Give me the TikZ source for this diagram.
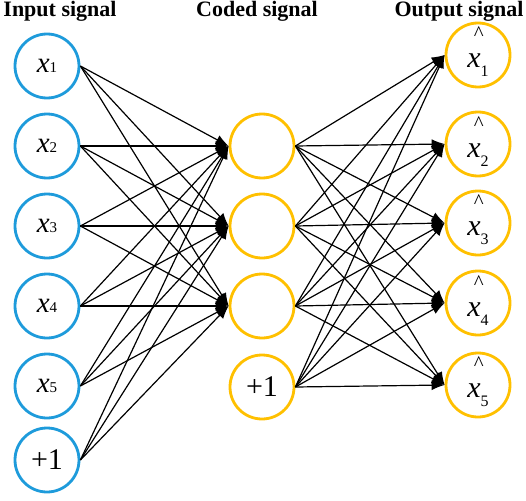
\documentclass[tikz,border=0pt]{standalone}
\usepackage{fontspec}
\setmainfont{Liberation Serif}
\usetikzlibrary{arrows.meta}
\definecolor{inblue}{HTML}{1E9BDB}
\definecolor{gold}{HTML}{FFC000}
\newcommand{\inx}[1]{\fontsize{29}{29}\selectfont\textit{x}\fontsize{15}{15}\selectfont#1}
\newcommand{\outx}[1]{\raisebox{27pt}[35pt][0pt]{\makebox[0pt][l]{\hspace{6.5pt}\fontsize{21}{21}\selectfont\textasciicircum}}\fontsize{30}{30}\selectfont\textit{x}\raisebox{-9pt}{\fontsize{16}{16}\selectfont#1}}
\newcommand{\plusone}{\fontsize{30}{30}\selectfont+1}
\begin{document}
\begin{tikzpicture}[x=1pt,y=-1pt,
 neuron/.style={circle,line width=2.8pt,minimum size=64pt,inner sep=0pt,fill=white},
 inn/.style={neuron,draw=inblue},
 hid/.style={neuron,draw=gold},
 conn/.style={line width=1.2pt,-{Latex[length=13pt,width=10pt]}},
 title/.style={font=\fontsize{22}{22}\selectfont\bfseries,anchor=base,inner sep=0pt}]
\useasboundingbox (0,0) rectangle (526,500);
\node[title] (t1) at (60,17) {Input signal};
\node[title] (t2) at (257,17) {Coded signal};
\node[title] (t3) at (459,17) {Output signal};
% input layer
\node[inn] (i1) at (47,66) {\inx{1}};
\node[inn] (i2) at (47,146) {\inx{2}};
\node[inn] (i3) at (47,226) {\inx{3}};
\node[inn] (i4) at (47,306) {\inx{4}};
\node[inn] (i5) at (47,386) {\inx{5}};
\node[inn] (i6) at (47,460) {\plusone};
% coded layer
\node[hid] (h1) at (262,146) {};
\node[hid] (h2) at (262,226) {};
\node[hid] (h3) at (262,306) {};
\node[hid] (h4) at (262,387) {\plusone};
% output layer
\node[hid] (o1) at (478,55) {\outx{1}};
\node[hid] (o2) at (478,144) {\outx{2}};
\node[hid] (o3) at (478,223) {\outx{3}};
\node[hid] (o4) at (478,303) {\outx{4}};
\node[hid] (o5) at (478,385) {\outx{5}};
% connections
\foreach \i in {1,...,6}
  \foreach \j in {1,2,3}
    \draw[conn] (i\i.east) -- (h\j.west);
\foreach \j in {1,...,4}
  \foreach \k in {1,...,5}
    \draw[conn] (h\j.east) -- (o\k.west);
\end{tikzpicture}
\end{document}
